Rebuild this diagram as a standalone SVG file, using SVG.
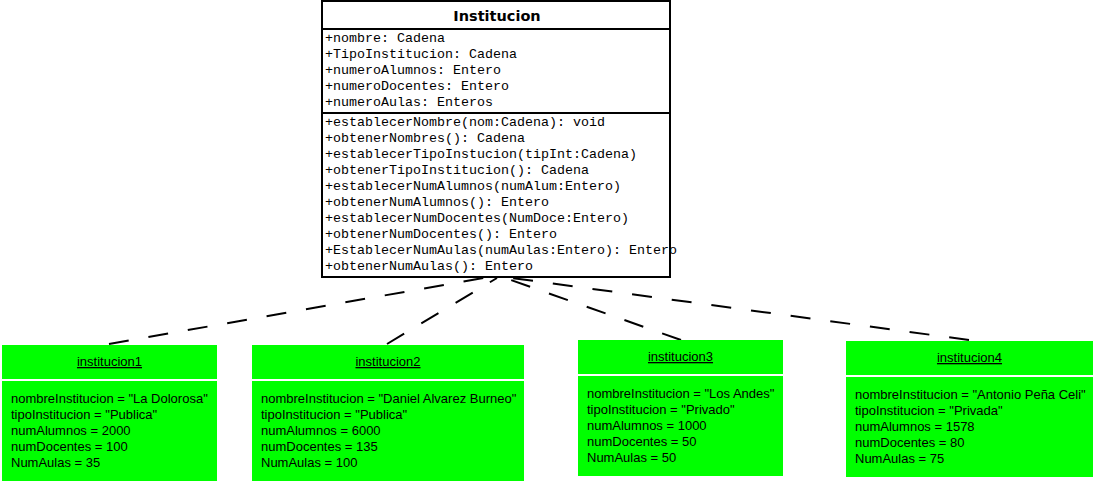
<svg xmlns="http://www.w3.org/2000/svg" width="1095" height="483" viewBox="0 0 1095 483">
<style>
.cls{fill:#fff;stroke:#000;stroke-width:2}
.sep{stroke:#000;stroke-width:2}
.title{font-family:"DejaVu Sans",Verdana,sans-serif;font-weight:bold;font-size:14.5px;fill:#000;text-anchor:middle}
.mono{font-family:"Liberation Mono","Courier New",monospace;font-size:13.33px;fill:#000}
.obj{fill:#00ff00;stroke:none}
.hdr{font-family:"Liberation Sans",Arial,sans-serif;font-size:13px;fill:#000;text-anchor:middle;text-decoration:underline}
.val{font-family:"Liberation Sans",Arial,sans-serif;font-size:13px;fill:#000}
.dep{fill:none;stroke:#000;stroke-width:2;stroke-dasharray:20 20}
</style>
<rect width="1095" height="483" fill="#fff"/>
<g id="connectors">
<line class="dep" x1="109" y1="344" x2="489" y2="277"/>
<line class="dep" x1="387" y1="344" x2="497" y2="278"/>
<line class="dep" x1="681" y1="340" x2="508" y2="279"/>
<line class="dep" x1="969" y1="340" x2="512" y2="278"/>
</g>
<g id="Institucion">
<rect class="cls" x="322" y="1" width="348" height="276"/>
<line class="sep" x1="322" y1="29" x2="670" y2="29"/>
<line class="sep" x1="322" y1="113" x2="670" y2="113"/>
<text class="title" x="497" y="21">Institucion</text>
<text class="mono" x="325" y="42">+nombre: Cadena</text>
<text class="mono" x="325" y="58">+TipoInstitucion: Cadena</text>
<text class="mono" x="325" y="74">+numeroAlumnos: Entero</text>
<text class="mono" x="325" y="90">+numeroDocentes: Entero</text>
<text class="mono" x="325" y="106">+numeroAulas: Enteros</text>
<text class="mono" x="325" y="126">+establecerNombre(nom:Cadena): void</text>
<text class="mono" x="325" y="142">+obtenerNombres(): Cadena</text>
<text class="mono" x="325" y="158">+establecerTipoInstucion(tipInt:Cadena)</text>
<text class="mono" x="325" y="174">+obtenerTipoInstitucion(): Cadena</text>
<text class="mono" x="325" y="190">+establecerNumAlumnos(numAlum:Entero)</text>
<text class="mono" x="325" y="206">+obtenerNumAlumnos(): Entero</text>
<text class="mono" x="325" y="222">+establecerNumDocentes(NumDoce:Entero)</text>
<text class="mono" x="325" y="238">+obtenerNumDocentes(): Entero</text>
<text class="mono" x="325" y="254">+EstablecerNumAulas(numAulas:Entero): Entero</text>
<text class="mono" x="325" y="270">+obtenerNumAulas(): Entero</text>
</g>
<g id="institucion1">
<rect class="obj" x="2" y="345" width="215" height="34"/>
<rect class="obj" x="2" y="381" width="215" height="100"/>
<text class="hdr" x="109.5" y="366">institucion1</text>
<text class="val" x="11" y="403">nombreInstitucion = "La Dolorosa"</text>
<text class="val" x="11" y="419">tipoInstitucion = "Publica"</text>
<text class="val" x="11" y="435">numAlumnos = 2000</text>
<text class="val" x="11" y="451">numDocentes = 100</text>
<text class="val" x="11" y="467">NumAulas = 35</text>
</g>
<g id="institucion2">
<rect class="obj" x="252" y="345" width="272" height="34"/>
<rect class="obj" x="252" y="381" width="272" height="100"/>
<text class="hdr" x="388" y="366">institucion2</text>
<text class="val" x="261" y="403">nombreInstitucion = "Daniel Alvarez Burneo"</text>
<text class="val" x="261" y="419">tipoInstitucion = "Publica"</text>
<text class="val" x="261" y="435">numAlumnos = 6000</text>
<text class="val" x="261" y="451">numDocentes = 135</text>
<text class="val" x="261" y="467">NumAulas = 100</text>
</g>
<g id="institucion3">
<rect class="obj" x="578" y="340" width="205" height="34"/>
<rect class="obj" x="578" y="376" width="205" height="100"/>
<text class="hdr" x="680.5" y="361">institucion3</text>
<text class="val" x="587" y="398">nombreInstitucion = "Los Andes"</text>
<text class="val" x="587" y="414">tipoInstitucion = "Privado"</text>
<text class="val" x="587" y="430">numAlumnos = 1000</text>
<text class="val" x="587" y="446">numDocentes = 50</text>
<text class="val" x="587" y="462">NumAulas = 50</text>
</g>
<g id="institucion4">
<rect class="obj" x="846" y="341" width="247" height="34"/>
<rect class="obj" x="846" y="377" width="247" height="100"/>
<text class="hdr" x="969.5" y="362">institucion4</text>
<text class="val" x="855" y="399">nombreInstitucion = "Antonio Peña Celi"</text>
<text class="val" x="855" y="415">tipoInstitucion = "Privada"</text>
<text class="val" x="855" y="431">numAlumnos = 1578</text>
<text class="val" x="855" y="447">numDocentes = 80</text>
<text class="val" x="855" y="463">NumAulas = 75</text>
</g>
</svg>
